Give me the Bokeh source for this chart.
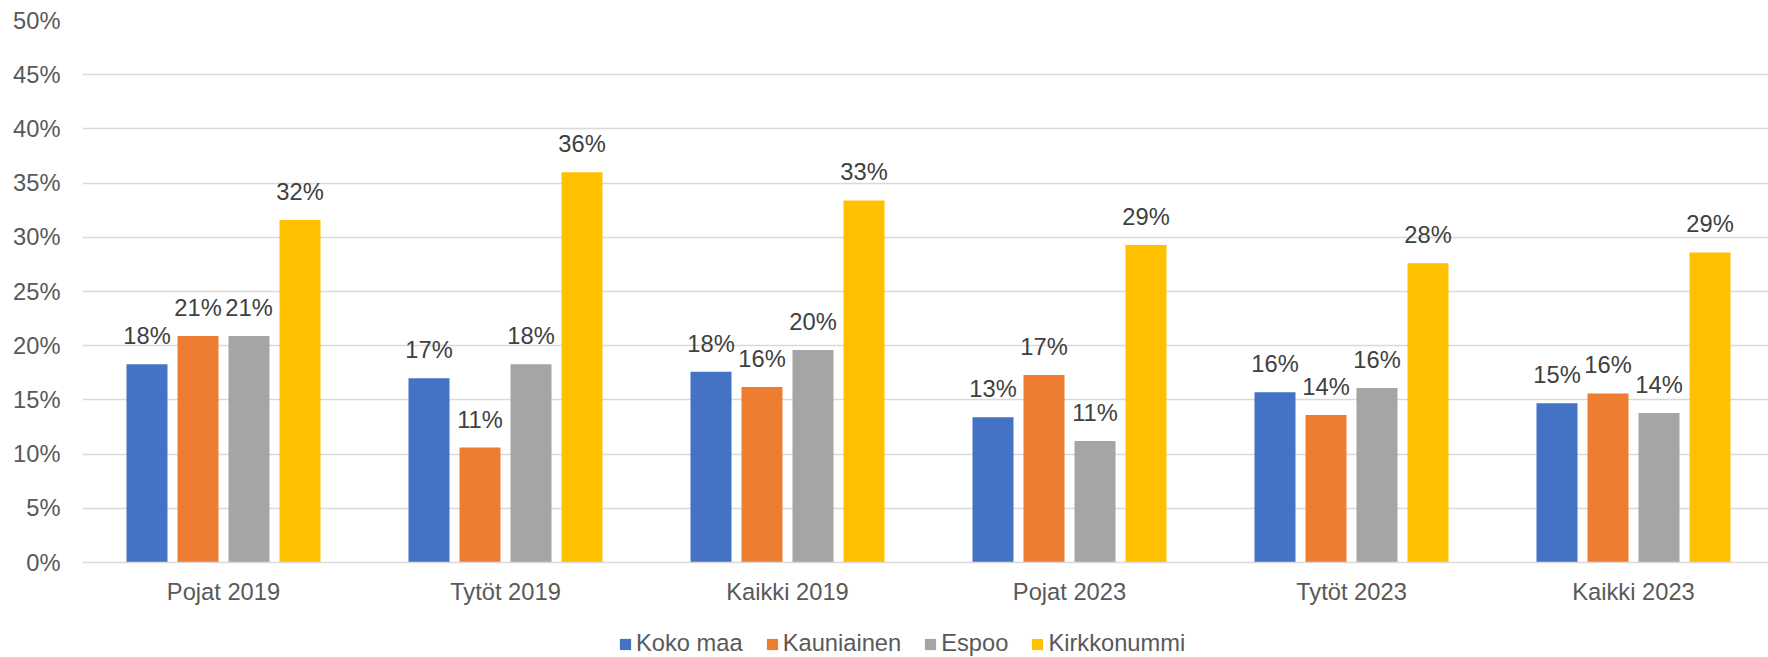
from bokeh.plotting import figure
from bokeh.layouts import column
from bokeh.models import Range1d, FixedTicker, Legend, LegendItem, ColumnDataSource
from bokeh.core.properties import value
from bokeh.embed import file_html
from bokeh.resources import INLINE

categories = ["Pojat 2019", "Tytöt 2019", "Kaikki 2019", "Pojat 2023", "Tytöt 2023", "Kaikki 2023"]
series_names = ["Koko maa", "Kauniainen", "Espoo", "Kirkkonummi"]
koko_maa = [18.3, 17.0, 17.6, 13.4, 15.7, 14.7]
kauniainen = [20.9, 10.6, 16.2, 17.3, 13.6, 15.6]
espoo = [20.9, 18.3, 19.6, 11.2, 16.1, 13.8]
kirkkonummi = [31.6, 36.0, 33.4, 29.3, 27.6, 28.6]
y_ticks = [0, 5, 10, 15, 20, 25, 30, 35, 40, 45, 50]

series_values = [koko_maa, kauniainen, espoo, kirkkonummi]
colors = ["#4472C4", "#ED7D31", "#A5A5A5", "#FFC000"]
offsets = [-0.2713, -0.0904, 0.0904, 0.2713]
bar_width = 0.1454
FONT = "Liberation Sans"
FS = "23.7px"

W = 1768
p = figure(width=W, height=610,
           x_range=Range1d(0, (W - 82) / 282), y_range=Range1d(0, 50),
           output_backend="svg", toolbar_location=None,
           min_border_left=82, min_border_right=0,
           min_border_top=20, min_border_bottom=48)
p.outline_line_color = None

for name, vals, col, off in zip(series_names, series_values, colors, offsets):
    xs = [i + 0.5 + off for i in range(len(categories))]
    src = ColumnDataSource(dict(x=xs, top=vals,
                                lbl=[f"{int(v + 0.5)}%" for v in vals]))
    p.vbar(x="x", top="top", bottom=0, width=bar_width, source=src,
           fill_color=col, line_color=None)
    p.text(x="x", y="top", text="lbl", source=src,
           text_font=value(FONT), text_font_size=FS, text_color="#404040",
           text_align="center", text_baseline="alphabetic", y_offset=-28)

# axes
p.xaxis.ticker = FixedTicker(ticks=[i + 0.5 for i in range(len(categories))])
p.xaxis.major_label_overrides = {i + 0.5: c for i, c in enumerate(categories)}
p.xaxis.axis_line_color = "#D9D9D9"
p.xaxis.axis_line_width = 1.5
p.xaxis.major_tick_line_color = None
p.xaxis.minor_tick_line_color = None
p.xaxis.major_tick_out = 0
p.xaxis.major_tick_in = 0
p.xaxis.major_label_standoff = 16
p.xaxis.major_label_text_font = FONT
p.xaxis.major_label_text_font_size = FS
p.xaxis.major_label_text_color = "#595959"

p.yaxis.ticker = FixedTicker(ticks=y_ticks)
p.yaxis.major_label_overrides = {t: f"{t}%" for t in y_ticks}
p.yaxis.axis_line_color = None
p.yaxis.major_tick_line_color = None
p.yaxis.minor_tick_line_color = None
p.yaxis.major_tick_out = 0
p.yaxis.major_tick_in = 0
p.yaxis.major_label_standoff = 22
p.yaxis.major_label_text_font = FONT
p.yaxis.major_label_text_font_size = FS
p.yaxis.major_label_text_color = "#595959"

p.xgrid.grid_line_color = None
p.ygrid.ticker = FixedTicker(ticks=y_ticks)
p.ygrid.grid_line_color = "#D9D9D9"
p.ygrid.grid_line_width = 1.5

# legend strip below the chart (series bars kept out of view; only swatches show)
leg = figure(width=W, height=47, x_range=Range1d(0, 6), y_range=Range1d(100, 101),
             x_axis_type=None, y_axis_type=None,
             output_backend="svg", toolbar_location=None,
             min_border=0, min_border_left=0, min_border_right=0,
             min_border_top=0, min_border_bottom=0)
leg.grid.grid_line_color = None
leg.outline_line_color = None
items = []
for name, vals, col in zip(series_names, series_values, colors):
    r = leg.vbar(x=[i + 0.5 for i in range(len(categories))], top=vals, bottom=0,
                 width=bar_width, fill_color=col, line_color=None)
    items.append(LegendItem(label=name, renderers=[r]))
legend = Legend(items=items, orientation="horizontal", location=(536, 0),
                glyph_width=14, glyph_height=14, label_standoff=4, spacing=22,
                padding=0, margin=0, border_line_color=None,
                background_fill_alpha=0,
                label_text_font=FONT, label_text_font_size=FS,
                label_text_color="#595959")
leg.add_layout(legend, "center")

layout = column(p, leg, spacing=0)
open("out.html", "w").write(file_html(layout, INLINE))
